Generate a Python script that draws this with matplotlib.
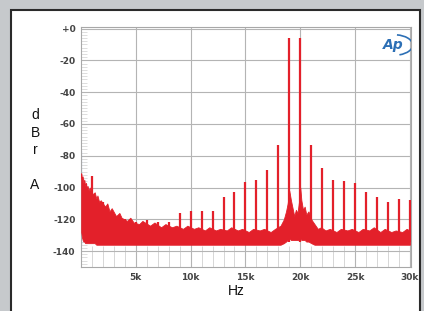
import matplotlib.pyplot as plt
import matplotlib.patches as patches
import numpy as np

# spectrum data (frequency in Hz, level in dBr A)
spike_freq = [1000, 2000, 3000, 4000, 5000, 6000, 7000, 8000, 9000, 10000,
              11000, 12000, 13000, 14000, 15000, 16000, 17000, 18000, 19000, 20000,
              21000, 22000, 23000, 24000, 25000, 26000, 27000, 28000, 29000, 30000]
spike_db = [-93, -109, -117, -120, -122, -120.5, -121.5, -121.5, -116, -114.5,
            -114.5, -114.5, -106, -103, -96.5, -95, -89, -73, -6, -6,
            -73, -88, -95, -96, -97, -103, -106, -109, -107, -108]

# noise floor envelope
floor_freq = [20, 80, 150, 220, 300, 380, 450, 520, 600, 700, 800, 900, 1100, 1250,
              1400, 1500, 1650, 1800, 2200, 2400, 2600, 2800, 3200, 3500, 3700,
              4200, 4500, 4800, 5300, 5600, 6300, 6700, 7300, 7700, 8300, 8700,
              9300, 9700, 10300, 10700, 11300, 11700, 12300, 12700, 13300, 13700,
              14300, 14700, 15300, 15700, 16300, 16700, 17300, 17700, 18200, 18500,
              18700, 18850, 19000, 19150, 19300, 19450, 19600, 19750, 19900, 20000,
              20100, 20250, 20400, 20550, 20750, 21000, 21300, 21600, 21900, 22300,
              22700, 23300, 23700, 24300, 24700, 25300, 25700, 26300, 26700, 27300,
              27700, 28300, 28700, 29300, 29700, 30000]
floor_top = [-91, -95, -93, -97, -95, -99, -97, -100, -99, -102, -100, -103, -104, -103,
             -107, -105, -109, -108, -112, -110, -115, -113, -118, -116, -119,
             -121, -119, -122, -123, -121, -124, -122, -125, -123, -125, -124,
             -126, -124, -126, -125, -127, -125, -127, -126, -127, -125,
             -127, -126, -128, -126, -127, -126, -128, -126, -124, -120,
             -115, -110, -102, -108, -113, -118, -114, -116, -108, -100,
             -108, -114, -112, -117, -115, -120, -123, -126, -125, -127,
             -126, -128, -126, -127, -126, -128, -126, -127, -125, -128,
             -126, -128, -127, -128, -126, -127]
floor_bottom = [-128, -131, -133, -134, -134, -135, -135, -135, -135, -135, -135, -135, -135, -135,
                -136, -136, -136, -136, -136, -136, -136, -136, -136, -136, -136,
                -136, -136, -136, -136, -136, -136, -136, -136, -136, -136, -136,
                -136, -136, -136, -136, -136, -136, -136, -136, -136, -136,
                -136, -136, -136, -136, -136, -136, -136, -136, -136, -135,
                -134, -133, -132, -133, -133, -133, -133, -133, -133, -132,
                -133, -133, -133, -134, -134, -135, -136, -136, -136, -136,
                -136, -136, -136, -136, -136, -136, -136, -136, -136, -136,
                -136, -136, -136, -136, -136, -136]

dc_freq = 40
dc_db = -77

xticks = [5000, 10000, 15000, 20000, 25000, 30000]
xtick_labels = ['5k', '10k', '15k', '20k', '25k', '30k']
yticks = [0, -20, -40, -60, -80, -100, -120, -140]
ytick_labels = ['+0', '-20', '-40', '-60', '-80', '-100', '-120', '-140']

red = '#e3202a'

fig = plt.figure(figsize=(4.24, 3.11), dpi=100)
fig.patch.set_facecolor('#c6c9cc')

# white panel with dark frame
panel = patches.Rectangle((11 / 424, -0.05), (420 - 11) / 424, (311 - 10) / 311 + 0.05,
                          transform=fig.transFigure, facecolor='white',
                          edgecolor='#2a2a2a', linewidth=1.5, zorder=-5)
fig.patches.append(panel)

ax = fig.add_axes([81 / 424, (311 - 267) / 311, (411 - 81) / 424, (267 - 27) / 311])
ax.set_zorder(2)
ax.set_facecolor('white')

ax.fill_between(floor_freq, floor_bottom, floor_top, color=red, linewidth=0.6,
                edgecolor=red, zorder=3)
ax.vlines(dc_freq, -136, dc_db, color='#4a6fc0', linewidth=1.5, zorder=2)
ax.vlines(spike_freq, -134, spike_db, color=red, linewidth=1.6, zorder=4)

ax.set_xlim(0, 30100)
ax.set_ylim(-150, 1)

ax.set_xticks(xticks)
ax.set_xticklabels(xtick_labels)
ax.set_yticks(yticks)
ax.set_yticklabels(ytick_labels)
ax.set_xticks(np.arange(1000, 30001, 1000), minor=True)
ax.set_yticks(np.arange(-148, 0, 2), minor=True)

ax.grid(True, which='major', color='#b4b4b4', linewidth=0.8, zorder=1)
ax.set_axisbelow(True)

ax.tick_params(axis='both', which='major', length=0, labelsize=6.5,
               labelcolor='#444444', pad=4)
ax.tick_params(axis='x', which='minor', direction='in', length=15, width=0.6,
               color='#d0d0d0')
ax.tick_params(axis='y', which='minor', direction='in', length=4, width=0.5,
               color='#d0d0d0')
for lbl in ax.get_xticklabels() + ax.get_yticklabels():
    lbl.set_fontweight('bold')

for s in ax.spines.values():
    s.set_color('#a8a8a8')
    s.set_linewidth(0.8)

fig.text(35 / 424, 1 - 150 / 311, 'd\nB\nr\n\nA', ha='center', va='center',
         fontsize=10, family='Liberation Sans', linespacing=1.3, color='#111111')
fig.text(236 / 424, 1 - 291 / 311, 'Hz', ha='center', va='center',
         fontsize=10, family='Liberation Sans', color='#111111')

# Ap logo
ax.text(0.945, 0.925, 'Ap', transform=ax.transAxes, ha='center', va='center',
        fontsize=10, fontstyle='italic', fontweight='bold', color='#2c6fb5',
        family='DejaVu Sans', zorder=6)
ax.add_patch(patches.Arc((0.95, 0.925), 0.11, 0.085, theta1=-70, theta2=80,
                         transform=ax.transAxes, color='#2c6fb5', linewidth=1.2,
                         zorder=6))

fig.savefig('out.png', dpi=100, facecolor=fig.get_facecolor())
